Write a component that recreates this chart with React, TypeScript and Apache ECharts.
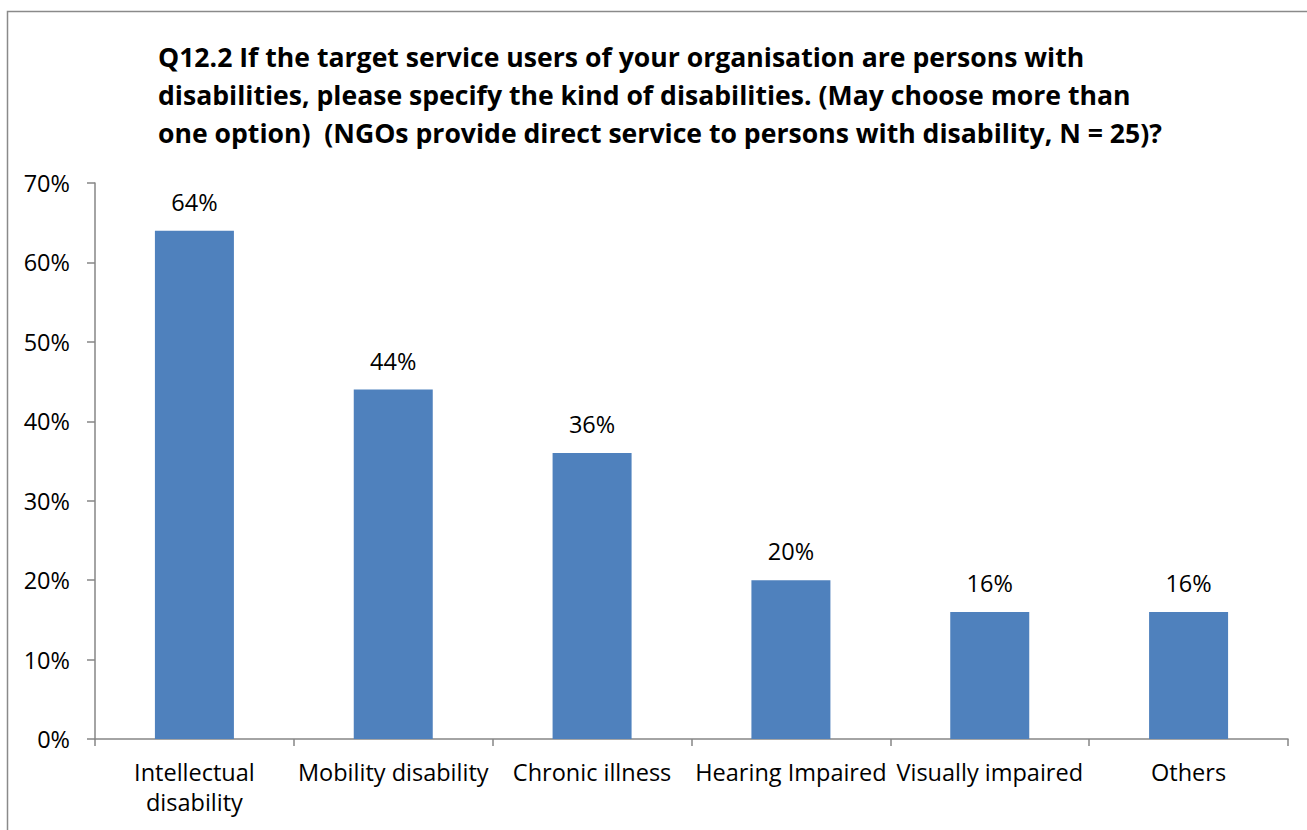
import React, { useEffect, useRef } from "react";
import * as echarts from "echarts";

const categories = [
  "Intellectual disability",
  "Mobility disability",
  "Chronic illness",
  "Hearing Impaired",
  "Visually impaired",
  "Others",
];
const values = [64, 44, 36, 20, 16, 16];
const yTicks = [0, 10, 20, 30, 40, 50, 60, 70];
const titleLines = [
  "Q12.2 If the target service users of your organisation are persons with",
  "disabilities, please specify the kind of disabilities. (May choose more than",
  "one option)  (NGOs provide direct service to persons with disability, N = 25)?",
];

const FONT = "'Open Sans', 'Liberation Sans', sans-serif";

export default function App() {
  const ref = useRef<HTMLDivElement>(null);
  useEffect(() => {
    document.body.style.margin = "0";
    if (!ref.current) return;
    const chart = echarts.init(ref.current, null, { renderer: "svg" });
    chart.setOption({
      animation: false,
      backgroundColor: "#ffffff",
      textStyle: { fontFamily: FONT },
      title: {
        text: titleLines.join("\n"),
        left: 153,
        top: 33,
        textStyle: {
          fontFamily: FONT,
          fontSize: 26.6,
          fontWeight: "bold",
          color: "#000000",
          lineHeight: 38,
        },
      },
      graphic: [
        {
          type: "rect",
          shape: { x: 7.5, y: 11.5, width: 1400, height: 900 },
          style: { fill: "none", stroke: "#8a8a8a", lineWidth: 1.5 },
          silent: true,
        },
      ],
      grid: { left: 95, right: 19, top: 183, bottom: 91, containLabel: false },
      xAxis: {
        type: "category",
        data: categories,
        axisLine: { lineStyle: { color: "#868686", width: 1.5 } },
        axisTick: {
          show: true,
          alignWithLabel: false,
          length: 7,
          lineStyle: { color: "#868686", width: 1.5 },
        },
        axisLabel: {
          interval: 0,
          color: "#000000",
          fontSize: 23.5,
          fontFamily: FONT,
          lineHeight: 30,
          margin: 18,
          formatter: (v: string) =>
            v === "Intellectual disability" ? "Intellectual\ndisability" : v,
        },
      },
      yAxis: {
        type: "value",
        min: yTicks[0],
        max: yTicks[yTicks.length - 1],
        interval: 10,
        splitLine: { show: false },
        axisLine: { show: true, lineStyle: { color: "#868686", width: 1.5 } },
        axisTick: { show: true, length: 8, lineStyle: { color: "#868686", width: 1.5 } },
        axisLabel: {
          color: "#000000",
          fontSize: 23.5,
          fontFamily: FONT,
          margin: 25,
          formatter: (v: number) => v + "%",
        },
      },
      series: [
        {
          type: "bar",
          data: values,
          barWidth: 79,
          itemStyle: { color: "#4f81bd" },
          label: {
            show: true,
            position: "top",
            distance: 17,
            color: "#000000",
            fontSize: 23.5,
            fontFamily: FONT,
            formatter: (p: any) => p.value + "%",
          },
        },
      ],
    });
    return () => chart.dispose();
  }, []);
  return <div ref={ref} style={{ width: 1307, height: 830 }} />;
}
